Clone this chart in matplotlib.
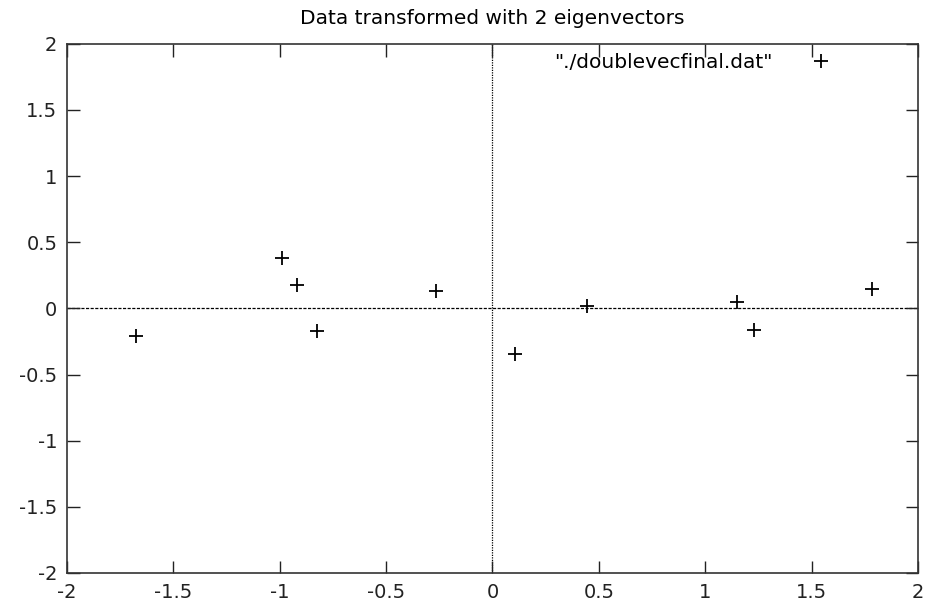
import matplotlib
matplotlib.use('Agg')
import matplotlib.pyplot as plt

# points from ./doublevecfinal.dat
xs = [-1.675, -0.99, -0.917, -0.823, -0.267, 0.107, 0.445, 1.148, 1.231, 1.786]
ys = [-0.21, 0.383, 0.176, -0.172, 0.131, -0.348, 0.02, 0.045, -0.161, 0.146]
ticks = [-2, -1.5, -1, -0.5, 0, 0.5, 1, 1.5, 2]
tick_labels = ['-2', '-1.5', '-1', '-0.5', '0', '0.5', '1', '1.5', '2']

plt.rcParams['font.family'] = ['DejaVu Sans']

fig = plt.figure(figsize=(9.32, 6), dpi=100)
ax = fig.add_axes([0.0719, 0.045, 0.913, 0.882])

ax.axhline(0, color='black', lw=0.9, linestyle=(0, (2.5, 1.2)), zorder=1)
ax.axvline(0, color='black', lw=0.9, linestyle=(0, (1, 1)), zorder=1)

ax.plot(xs, ys, linestyle='none', marker='+', markersize=10, mew=1.3,
        color='black', label='"./doublevecfinal.dat"', zorder=3)

ax.set_xlim(-2, 2)
ax.set_ylim(-2, 2)
ax.set_xticks(ticks)
ax.set_xticklabels(tick_labels)
ax.set_yticks(ticks)
ax.set_yticklabels(tick_labels)
ax.tick_params(direction='in', top=True, right=True, length=9, width=1,
               labelsize=14, colors='#222222', pad=7)
for s in ax.spines.values():
    s.set_linewidth(1.2)
    s.set_color('#333333')

ax.set_title('Data transformed with 2 eigenvectors', fontsize=14.5, pad=14)
ax.legend(loc='upper right', frameon=False, markerfirst=False, fontsize=14.5,
          handlelength=2, handletextpad=1.4, borderpad=0.4, borderaxespad=0,
          bbox_to_anchor=(0.919, 0.997))

fig.savefig('out.png', dpi=100)
